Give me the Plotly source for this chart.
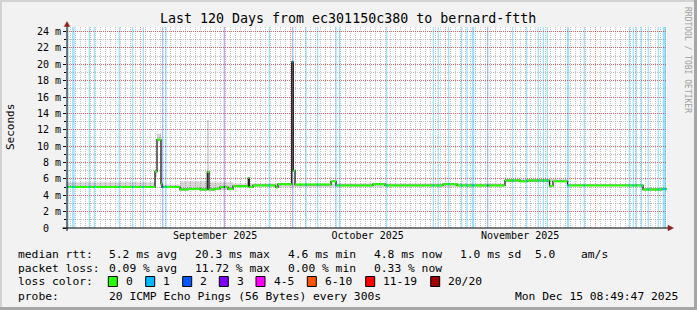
import numpy as np
import pandas as pd
import plotly.graph_objects as go

# ---------------- data ----------------
start = pd.Timestamp("2025-08-17 08:49:47")
end = pd.Timestamp("2025-12-15 08:49:47")

# median RTT step changes (days since window start, ms)
median_day = [0.0, 17.6, 18.0, 18.8, 19.0, 22.6, 24.2, 25.6, 26.6, 28.06, 28.4, 29.6, 30.6,
              32.2, 33.2, 36.26, 36.46, 37.2, 41.7, 42.2, 44.94, 45.26, 45.6, 52.8, 53.8,
              61.2, 63.6, 75.2, 78.0, 87.6, 90.6, 92.0, 96.5, 97.2, 100.1, 115.2, 119.0]
median_ms = [5.0, 6.9, 10.8, 5.4, 5.0, 4.7, 4.75, 4.8, 4.7, 6.85, 4.7, 4.8, 5.0,
             4.75, 5.1, 6.1, 5.0, 5.2, 4.95, 5.35, 20.3, 7.0, 5.3, 5.7, 5.2,
             5.35, 5.2, 5.35, 5.2, 5.8, 5.7, 5.8, 5.15, 5.7, 5.2, 4.7, 4.78]

# smoke (ping spread) step changes
smoke_day = [0.0, 17.6, 18.0, 18.8, 19.0, 22.6, 28.0, 28.4, 33.2, 87.6, 100.1, 115.2]
smoke_lo = [4.9, 6.2, 10.6, 5.2, 4.9, 4.6, 4.6, 4.6, 5.0, 5.6, 5.1, 4.6]
smoke_hi = [5.6, 7.1, 11.5, 5.6, 5.3, 5.7, 13.2, 5.6, 5.45, 5.95, 5.35, 4.9]

# packet loss events (centre day, duration hours, loss level index)
loss_day = [0.2, 1.14, 1.4, 4.46, 5.46, 10.46, 13.14, 15.26, 19.14, 19.8, 31.46, 40.46,
            45.14, 47.8, 50.14, 53.8, 54.5, 63.94, 73.26, 74.26, 76.3, 78.94, 80.0, 81.2,
            84.14, 89.14, 91.94, 94.26, 95.26, 96.06, 100.2, 103.46, 112.46, 113.26,
            113.86, 114.9, 116.26, 118.26, 119.46]
loss_hours = [7, 6, 6, 6, 6, 6, 6, 6, 6, 6, 6, 6,
              6, 6, 6, 6, 6, 6, 6, 6, 6, 6, 6, 12,
              6, 6, 6, 6, 6, 6, 10, 6, 6, 6,
              6, 6, 6, 6, 17]
loss_level = [1, 1, 1, 1, 1, 1, 1, 1, 2, 1, 3, 1,
              2, 1, 1, 1, 1, 1, 1, 1, 1, 1, 1, 1,
              2, 1, 1, 1, 1, 1, 1, 1, 1, 1,
              1, 1, 1, 1, 1]

loss_colors = ["#26ff00", "#00b8ff", "#0059ff", "#7e00ff", "#ff00ff", "#ff5500", "#ff0000", "#a10000"]
loss_labels = ["0", "1", "2", "3", "4-5", "6-10", "11-19", "20/20"]

y_tickvals = list(range(0, 25, 2))
y_ticktext = ["0\u00a0\u00a0"] + [f"{v} m" for v in y_tickvals[1:]]

title = "Last 120 Days from ec301150c380 to bernard-ftth"
stat_rows = [
    ["median rtt:", "5.2 ms avg", "20.3 ms max", "4.6 ms min", "4.8 ms now", "1.0 ms sd", "5.0", "am/s"],
    ["packet loss:", "0.09 % avg", "11.72 % max", "0.00 % min", "0.33 % now"],
]
probe_text = ["probe:", "20 ICMP Echo Pings (56 Bytes) every 300s"]
stamp = "Mon Dec 15 08:49:47 2025"

# ---------------- layout helpers ----------------
W, H = 697, 310
L, R, T, B = 67, 30, 27, 82
PW, PH = W - L - R, H - T - B
FONT = "DejaVu Sans Mono"


def px(x):
    return (x - L) / PW


def py(y):
    return (H - B - y) / PH


def tstr(d):
    return (start + pd.to_timedelta(d, unit="D")).strftime("%Y-%m-%d %H:%M:%S")


fig = go.Figure()

# smoke
sx = [tstr(d) for d in smoke_day] + [tstr(120)]
fig.add_trace(go.Scatter(x=sx, y=smoke_lo + [smoke_lo[-1]], mode="lines", line=dict(width=0, shape="hv"),
                         showlegend=False, hoverinfo="skip"))
fig.add_trace(go.Scatter(x=sx, y=smoke_hi + [smoke_hi[-1]], mode="lines", line=dict(width=0, shape="hv"),
                         fill="tonexty", fillcolor="rgba(0,0,0,0.16)", showlegend=False, hoverinfo="skip"))

# dark median step line
mx = [tstr(d) for d in median_day] + [tstr(120)]
fig.add_trace(go.Scatter(x=mx, y=median_ms + [median_ms[-1]], mode="lines",
                         line=dict(color="#202020", width=1.3, shape="hv"), showlegend=False, hoverinfo="skip"))

# green horizontal segments
gx, gy = [], []
bounds = median_day + [120]
for i, v in enumerate(median_ms):
    gx += [tstr(bounds[i]), tstr(bounds[i + 1]), None]
    gy += [v, v, None]
fig.add_trace(go.Scatter(x=gx, y=gy, mode="lines", line=dict(color=loss_colors[0], width=2),
                         showlegend=False, hoverinfo="skip"))

# median coloured by loss during loss events
mdays = np.array(median_day)
for lvl in sorted(set(loss_level)):
    cx, cy = [], []
    for d, hrs, l in zip(loss_day, loss_hours, loss_level):
        if l != lvl:
            continue
        v = median_ms[int(np.searchsorted(mdays, d, side="right") - 1)]
        half = hrs / 48.0
        cx += [tstr(max(d - half, 0)), tstr(min(d + half, 120)), None]
        cy += [v, v, None]
    fig.add_trace(go.Scatter(x=cx, y=cy, mode="lines", line=dict(color=loss_colors[lvl], width=2),
                             showlegend=False, hoverinfo="skip"))

shapes = []


def rgba(hexc, a):
    h = hexc.lstrip("#")
    return f"rgba({int(h[0:2],16)},{int(h[2:4],16)},{int(h[4:6],16)},{a})"


# loss background bands
for d, hrs, l in zip(loss_day, loss_hours, loss_level):
    half = hrs / 48.0
    shapes.append(dict(type="rect", xref="x", yref="y domain", x0=tstr(max(d - half, 0)),
                       x1=tstr(min(d + half, 120)), y0=0, y1=1, fillcolor=rgba(loss_colors[l], 0.4),
                       line=dict(width=0), layer="below"))

# axis extensions and arrows
shapes.append(dict(type="line", xref="paper", yref="paper", x0=px(62.5), x1=px(668.5), y0=py(228), y1=py(228),
                   line=dict(color="black", width=1)))
shapes.append(dict(type="line", xref="paper", yref="paper", x0=px(67), x1=px(67), y0=py(231), y1=py(26),
                   line=dict(color="black", width=1)))
shapes.append(dict(type="path", xref="paper", yref="paper",
                   path=f"M {px(64.2)} {py(26.5)} L {px(69.8)} {py(26.5)} L {px(67)} {py(21.5)} Z",
                   fillcolor="#902020", line=dict(color="#902020", width=0.5)))
shapes.append(dict(type="path", xref="paper", yref="paper",
                   path=f"M {px(668)} {py(225.2)} L {px(668)} {py(230.8)} L {px(673.5)} {py(228)} Z",
                   fillcolor="#902020", line=dict(color="#902020", width=0.5)))

# frame
shapes.append(dict(type="line", xref="paper", yref="paper", x0=px(0), x1=px(697), y0=py(1), y1=py(1),
                   line=dict(color="#d2d2d2", width=2)))
shapes.append(dict(type="line", xref="paper", yref="paper", x0=px(1), x1=px(1), y0=py(0), y1=py(310),
                   line=dict(color="#d2d2d2", width=2)))
shapes.append(dict(type="line", xref="paper", yref="paper", x0=px(0), x1=px(697), y0=py(308.5), y1=py(308.5),
                   line=dict(color="#a6a6a6", width=3)))
shapes.append(dict(type="line", xref="paper", yref="paper", x0=px(695.5), x1=px(695.5), y0=py(0), y1=py(310),
                   line=dict(color="#a6a6a6", width=3)))

annotations = []


def txt(x, y, s, size=11.3, anchor="left", color="black", angle=0):
    annotations.append(dict(xref="paper", yref="paper", x=px(x), y=py(y), text=s, showarrow=False,
                            xanchor=anchor, yanchor="middle", textangle=angle,
                            font=dict(family=FONT, size=size, color=color)))


txt(348, 19, title, size=13.3, anchor="center")
txt(11, 127, "Seconds", size=11, anchor="center", angle=-90)
txt(688, 60, "RRDTOOL / TOBI OETIKER", size=8, anchor="center", color="#a0a0a0", angle=90)

col_x = [16, 107.3, 193.3, 286, 372.3, 458.3, 533.3, 579.3]
row_y = [254.3, 268.3]
for r, row in enumerate(stat_rows):
    for c, s in enumerate(row):
        txt(col_x[c], row_y[r], s)

txt(16, 281.7, "loss color:")
sq_x = [108.3, 145.7, 182.7, 219.3, 256, 307.3, 365.7, 430.7]
for i, (c, lab) in enumerate(zip(loss_colors, loss_labels)):
    x0 = sq_x[i]
    shapes.append(dict(type="rect", xref="paper", yref="paper", x0=px(x0), x1=px(x0 + 9),
                       y0=py(286.5), y1=py(276.5), fillcolor=c, line=dict(color="black", width=1)))
    txt(x0 + 15.5, 281.7, lab)

txt(16, 296, probe_text[0])
txt(107.3, 296, probe_text[1])
txt(680, 296, stamp, anchor="right")

fig.update_layout(
    width=W, height=H, margin=dict(l=L, r=R, t=T, b=B, pad=0),
    paper_bgcolor="#f2f2f2", plot_bgcolor="white",
    showlegend=False, shapes=shapes, annotations=annotations,
    xaxis=dict(type="date", range=[start.strftime("%Y-%m-%d %H:%M:%S"), end.strftime("%Y-%m-%d %H:%M:%S")],
               dtick="M1", tick0="2025-09-01", tickformat="%B %Y", ticklabelmode="period",
               showgrid=True, gridcolor="rgba(255,0,0,0.45)", griddash="1px,1px", gridwidth=1,
               ticks="", showline=False, zeroline=False,
               tickfont=dict(family=FONT, size=10, color="black"),
               minor=dict(dtick=86400000, showgrid=True, gridcolor="rgba(140,140,140,0.55)",
                          griddash="1px,1px", gridwidth=1)),
    yaxis=dict(range=[0, 24.55], tickvals=y_tickvals, ticktext=y_ticktext,
               showgrid=True, gridcolor="rgba(255,0,0,0.45)", griddash="1px,1px", gridwidth=1,
               ticks="outside", ticklen=3, tickcolor="black", showline=False, zeroline=False,
               tickfont=dict(family=FONT, size=10, color="black"),
               minor=dict(dtick=1, showgrid=True, gridcolor="rgba(140,140,140,0.55)",
                          griddash="1px,1px", gridwidth=1, ticks="outside", ticklen=2, tickcolor="black")),
)

fig.write_html("out.html")
